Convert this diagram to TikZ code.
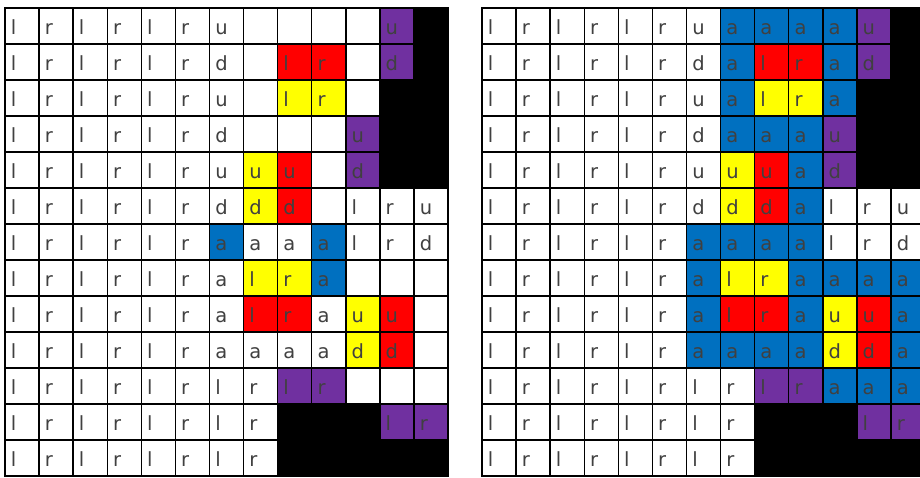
\documentclass[tikz,border=0pt]{standalone}
\usepackage{fontspec}
\setmainfont{DejaVu Sans}
\definecolor{cW}{HTML}{FFFFFF}
\definecolor{cB}{HTML}{0070C0}
\definecolor{cR}{HTML}{FF0000}
\definecolor{cY}{HTML}{FFFF00}
\definecolor{cP}{HTML}{7030A0}
\definecolor{cK}{HTML}{000000}

\begin{document}
\begin{tikzpicture}[
  x=1pt,y=-1pt,
  font=\fontsize{19.5}{22}\selectfont,
  every node/.style={outer sep=0pt},
  cell/.style={draw=black,line width=1.4pt,anchor=north west,inner sep=0pt,
    minimum width=34.08pt,minimum height=36pt,text width=22.5pt,align=left,
    text height=21pt,text depth=5pt,text=black!75}
]
\path[use as bounding box] (0,0) rectangle (920,477);
\clip (0,0) rectangle (920,477);
% l/r columns of both grids
\foreach \g/\x in {L/5,R/482}
  \foreach \r in {0,...,12}
    \foreach \t [count=\c from 0] in {l,r,l,r,l,r}
      \node[cell,fill=cW] (\g-\r-\c) at (\x+34.08*\c,8+36*\r) {\t};
% left grid, columns 6-12
\foreach \row [count=\r from 0] in {
  {u/cW,/cW,/cW,/cW,/cW,u/cP,/cK},
  {d/cW,/cW,l/cR,r/cR,/cW,d/cP,/cK},
  {u/cW,/cW,l/cY,r/cY,/cW,/cK,/cK},
  {d/cW,/cW,/cW,/cW,u/cP,/cK,/cK},
  {u/cW,u/cY,u/cR,/cW,d/cP,/cK,/cK},
  {d/cW,d/cY,d/cR,/cW,l/cW,r/cW,u/cW},
  {a/cB,a/cW,a/cW,a/cB,l/cW,r/cW,d/cW},
  {a/cW,l/cY,r/cY,a/cB,/cW,/cW,/cW},
  {a/cW,l/cR,r/cR,a/cW,u/cY,u/cR,/cW},
  {a/cW,a/cW,a/cW,a/cW,d/cY,d/cR,/cW},
  {l/cW,r/cW,l/cP,r/cP,/cW,/cW,/cW},
  {l/cW,r/cW,/cK,/cK,/cK,l/cP,r/cP},
  {l/cW,r/cW,/cK,/cK,/cK,/cK,/cK}}
  \foreach \t/\f [count=\c from 6] in \row
    \node[cell,fill=\f] (L-\r-\c) at (5+34.08*\c,8+36*\r) {\t};
% right grid, columns 6-12
\foreach \row [count=\r from 0] in {
  {u/cW,a/cB,a/cB,a/cB,a/cB,u/cP,/cK},
  {d/cW,a/cB,l/cR,r/cR,a/cB,d/cP,/cK},
  {u/cW,a/cB,l/cY,r/cY,a/cB,/cK,/cK},
  {d/cW,a/cB,a/cB,a/cB,u/cP,/cK,/cK},
  {u/cW,u/cY,u/cR,a/cB,d/cP,/cK,/cK},
  {d/cW,d/cY,d/cR,a/cB,l/cW,r/cW,u/cW},
  {a/cB,a/cB,a/cB,a/cB,l/cW,r/cW,d/cW},
  {a/cB,l/cY,r/cY,a/cB,a/cB,a/cB,a/cB},
  {a/cB,l/cR,r/cR,a/cB,u/cY,u/cR,a/cB},
  {a/cB,a/cB,a/cB,a/cB,d/cY,d/cR,a/cB},
  {l/cW,r/cW,l/cP,r/cP,a/cB,a/cB,a/cB},
  {l/cW,r/cW,/cK,/cK,/cK,l/cP,r/cP},
  {l/cW,r/cW,/cK,/cK,/cK,/cK,/cK}}
  \foreach \t/\f [count=\c from 6] in \row
    \node[cell,fill=\f] (R-\r-\c) at (482+34.08*\c,8+36*\r) {\t};
\end{tikzpicture}
\end{document}
